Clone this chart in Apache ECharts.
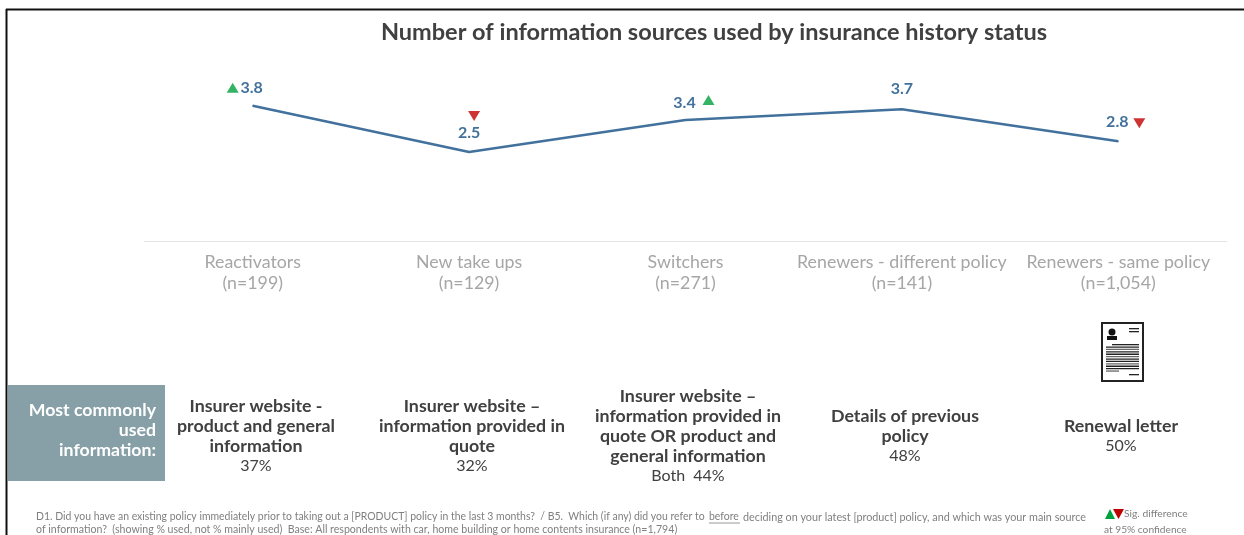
<!DOCTYPE html>
<html><head><meta charset="utf-8">
<style>html,body{margin:0;padding:0;background:#fff}#c{width:1244px;height:535px}</style>
<script src="https://cdn.jsdelivr.net/npm/echarts@6/dist/echarts.min.js"></script>
</head><body><div id="c"></div>
<script>
const titleText = 'Number of information sources used by insurance history status';
const categories = ['Reactivators\n(n=199)','New take ups\n(n=129)','Switchers\n(n=271)','Renewers - different policy\n(n=141)','Renewers - same policy\n(n=1,054)'];
const sourcesUsed = [3.8,2.5,3.4,3.7,2.8];
const significance = ['up','down','up',null,'down'];
const commonSources = [
 'Insurer website -\nproduct and general\ninformation',
 'Insurer website \u2013\ninformation provided in\nquote',
 'Insurer website \u2013\ninformation provided in\nquote OR product and\ngeneral information',
 'Details of previous\npolicy',
 'Renewal letter'];
const commonShares = ['37%','32%','Both  44%','48%','50%'];
const sideLabel = 'Most commonly\nused\ninformation:';
const footnote1a = 'D1. Did you have an existing policy immediately prior to taking out a [PRODUCT] policy in the last 3 months?  / B5.  Which (if any) did you refer to';
const footnote1b = 'before';
const footnote1c = 'deciding on your latest [product] policy, and which was your main source';
const footnote2 = 'of information?  (showing % used, not % mainly used)  Base: All respondents with car, home building or home contents insurance (n=1,794)';
const legendLines = ['Sig. difference','at 95% confidence'];

const FONT = 'Lato, "Open Sans", sans-serif';
const GREEN = '#00a03c', RED = '#c00000', BLUE = '#41719c';
const labelOffsets = [[-1,-18],[0,-19],[-1,-17],[0,-20],[-1,-19]];
const markOffsets  = [[-20,-18],[5,-36],[23,-20],[0,0],[21,-18]];
const blockCentres = [256,472,688,905,1121];
const blockTops    = [396,396,386,406,416];
const LH = 20;

const chart = echarts.init(document.getElementById('c'));
const blocks = [];
commonSources.forEach((s,i)=>{
  const n = s.split('\n').length;
  blocks.push({type:'text',x:blockCentres[i],y:blockTops[i],style:{text:s,font:'bold 17.8px '+FONT,fill:'#404040',align:'center',lineHeight:LH}});
  blocks.push({type:'text',x:blockCentres[i],y:blockTops[i]+n*LH,style:{text:commonShares[i],font:'16px '+FONT,fill:'#404040',align:'center',lineHeight:LH}});
});
const ic = {x:1102,y:323,w:41,h:58};
const icon = [
 {type:'rect',shape:{x:ic.x,y:ic.y,width:ic.w,height:ic.h},style:{fill:'#fff',stroke:'#222',lineWidth:2}},
 {type:'circle',shape:{cx:ic.x+10,cy:ic.y+9,r:3.5},style:{fill:'#111'}},
 {type:'rect',shape:{x:ic.x+5,y:ic.y+13,width:10,height:4},style:{fill:'#111'}},
 {type:'rect',shape:{x:ic.x+27,y:ic.y+5,width:10,height:1.3},style:{fill:'#222'}},
 {type:'rect',shape:{x:ic.x+27,y:ic.y+8,width:10,height:1.3},style:{fill:'#222'}},
 {type:'rect',shape:{x:ic.x+27,y:ic.y+51,width:10,height:1.3},style:{fill:'#222'}}
];
for(let k=0;k<12;k++){
  const first=k===0, last=k===11;
  icon.push({type:'rect',shape:{x:ic.x+(first?10:4),y:ic.y+21+k*2.4,width:last?13:(first?27:33),height:1.3},style:{fill:k%3===2?'#666':'#222'}});
}
chart.setOption({
  animation:false,
  backgroundColor:'#fff',
  title:{text:titleText,left:709,top:15,textAlign:'center',textStyle:{fontFamily:FONT,fontSize:23.5,fontWeight:'bold',color:'#404040'}},
  grid:{left:144.5,right:17.5,top:63,height:178},
  xAxis:{type:'category',data:categories,boundaryGap:true,
    axisLine:{lineStyle:{color:'#e3e3e3',width:1}},axisTick:{show:false},
    axisLabel:{interval:0,color:'#a6a6a6',fontFamily:FONT,fontSize:17.8,lineHeight:21,margin:11}},
  yAxis:{type:'value',min:0,max:5,show:false,splitLine:{show:false}},
  series:[
   {type:'line',data:sourcesUsed.map((v,i)=>({value:v,label:{offset:labelOffsets[i]}})),symbol:'circle',symbolSize:1,showAllSymbol:true,
    itemStyle:{color:BLUE},lineStyle:{color:BLUE,width:2.5},
    label:{show:true,position:'inside',formatter:p=>p.value.toFixed(1),fontFamily:FONT,fontSize:16,fontWeight:'bold',color:BLUE}},
   {type:'scatter',silent:true,
    data:sourcesUsed.map((v,i)=>significance[i]?{value:v,symbolOffset:markOffsets[i],symbolRotate:significance[i]==='up'?0:180,itemStyle:{color:significance[i]==='up'?GREEN:RED}}:{value:'-'}),
    symbol:'triangle',symbolSize:[12,10]}
  ],
  graphic:[
   {type:'line',shape:{x1:6,y1:9.5,x2:1244,y2:9.5},style:{stroke:'#111',lineWidth:2}},
   {type:'line',shape:{x1:6.5,y1:9,x2:6.5,y2:535},style:{stroke:'#111',lineWidth:2}},
   {type:'rect',shape:{x:8,y:385,width:157,height:96},style:{fill:'#87a0a8'}},
   {type:'text',x:156,y:400,style:{text:sideLabel,font:'bold 17.7px '+FONT,fill:'#fff',align:'right',lineHeight:20}},
   ...blocks,...icon,
   {type:'text',x:36,y:512,style:{text:footnote1a,font:'10.45px '+FONT,fill:'#7f7f7f'}},
   {type:'text',x:709,y:512,style:{text:footnote1b,font:'10.45px '+FONT,fill:'#7f7f7f'}},
   {type:'text',x:743,y:512,style:{text:footnote1c,font:'10.8px '+FONT,fill:'#7f7f7f'}},
   {type:'text',x:36,y:524,style:{text:footnote2,font:'10.6px '+FONT,fill:'#7f7f7f'}},
   {type:'line',shape:{x1:709,y1:523,x2:740,y2:523},style:{stroke:'#7f7f7f',lineWidth:0.8}},
   {type:'polygon',shape:{points:[[1105,519],[1115,519],[1110,509]]},style:{fill:GREEN}},
   {type:'polygon',shape:{points:[[1113,509],[1124,509],[1118.5,519]]},style:{fill:RED}},
   {type:'text',x:1124,y:509,style:{text:legendLines[0],font:'10.3px '+FONT,fill:'#7f7f7f'}},
   {type:'text',x:1104,y:525,style:{text:legendLines[1],font:'10.2px '+FONT,fill:'#7f7f7f'}}
  ]
});
</script></body></html>
